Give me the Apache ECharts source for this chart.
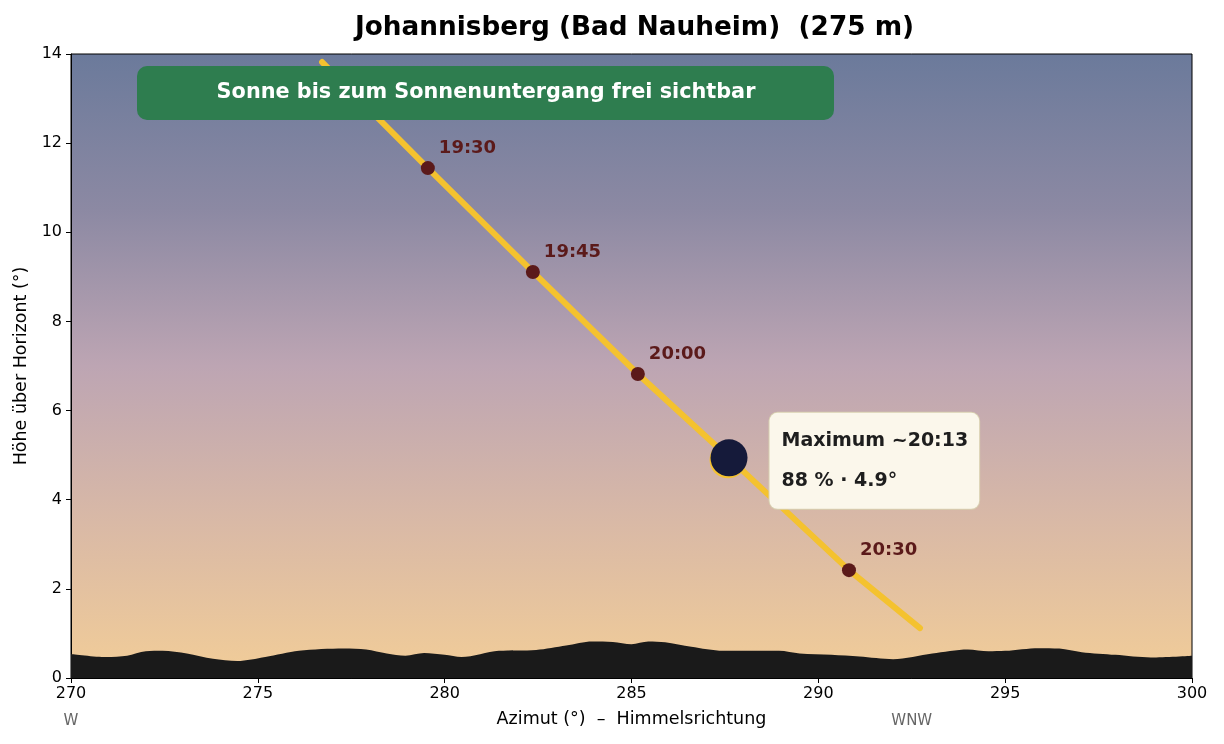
<!DOCTYPE html>
<html>
<head>
<meta charset="utf-8">
<title>Johannisberg (Bad Nauheim)</title>
<script src="https://cdn.jsdelivr.net/npm/echarts@6/dist/echarts.min.js"></script>
<style>
  html, body { margin: 0; padding: 0; background: #fff; }
  #chart { width: 1224px; height: 744px; }
</style>
</head>
<body>
<div id="chart"></div>
<script>
// horizon profile (azimuth / altitude in degrees)
const horizonAz = [270, 270.95, 271.5, 272, 272.45, 273.1, 273.8, 274.45, 275.2, 276.1, 277.3, 277.9,
  278.45, 278.95, 279.45, 280, 280.45, 281.45, 282.45, 283.25, 283.95, 284.5, 285, 285.45, 285.9,
  286.6, 287.45, 288.95, 289.5, 290.35, 291.1, 292, 293.05, 294, 294.55, 295, 295.9, 296.45,
  297.05, 297.95, 298.9, 300];
const horizonAlt = [0.54, 0.47, 0.50, 0.60, 0.61, 0.55, 0.43, 0.38, 0.47, 0.61, 0.66, 0.64,
  0.55, 0.50, 0.56, 0.52, 0.47, 0.61, 0.63, 0.73, 0.82, 0.81, 0.76, 0.82, 0.80,
  0.70, 0.61, 0.61, 0.55, 0.52, 0.48, 0.42, 0.55, 0.64, 0.60, 0.61, 0.67, 0.66,
  0.58, 0.52, 0.46, 0.50];

// sun path
const pathAz = [276.72, 279.55, 282.36, 285.17, 287.61, 290.82, 292.72];
const pathAlt = [13.82, 11.44, 9.11, 6.82, 4.94, 2.42, 1.12];

// quarter-hour markers
const markTimes = ['19:30', '19:45', '20:00', '20:30'];
const markAz = [279.55, 282.36, 285.17, 290.82];
const markAlt = [11.44, 9.11, 6.82, 2.42];

// maximum of the eclipse
const maxTime = '20:13';
const maxPercent = 88;
const maxAz = 287.61;
const maxAlt = 4.94;

// compass directions
const dirValues = [270, 292.5];
const dirNames = ['W', 'WNW'];

const xTicks = [270, 300, 5];
const yTicks = [0, 14, 2];

const FONT = 'DejaVu Sans';
const chart = echarts.init(document.getElementById('chart'));

const zip = (a, b) => a.map((v, i) => [v, b[i]]);

const option = {
  animation: false,
  textStyle: { fontFamily: FONT },
  title: {
    text: 'Johannisberg (Bad Nauheim)  (275 m)',
    left: 350,
    top: 10,
    textStyle: { fontFamily: FONT, fontSize: 26.3, fontWeight: 'bold', color: '#000' }
  },
  grid: {
    left: 71, right: 32, top: 54, bottom: 66,
    show: true,
    borderColor: '#000',
    borderWidth: 1,
    backgroundColor: new echarts.graphic.LinearGradient(0, 0, 0, 1, [
      { offset: 0, color: '#6b7a9b' },
      { offset: 0.25, color: '#8c89a3' },
      { offset: 0.5, color: '#bda5b3' },
      { offset: 0.75, color: '#d9b9a6' },
      { offset: 1, color: '#f2cd98' }
    ])
  },
  xAxis: [{
    type: 'value',
    min: xTicks[0], max: xTicks[1], interval: xTicks[2],
    name: 'Azimut (°)  –  Himmelsrichtung',
    nameLocation: 'middle',
    nameGap: 32,
    nameTextStyle: { fontSize: 17.5, color: '#000' },
    axisLine: { show: true, lineStyle: { color: '#000' } },
    axisTick: { show: true, length: 5, lineStyle: { color: '#000' } },
    axisLabel: { fontSize: 16, color: '#000', margin: 8 },
    splitLine: { show: false }
  }, {
    type: 'value',
    position: 'bottom',
    min: xTicks[0], max: xTicks[1],
    axisLine: { show: false },
    axisTick: { show: false },
    splitLine: { show: false },
    axisLabel: {
      customValues: dirValues,
      margin: 36,
      fontSize: 15,
      color: '#666',
      formatter: (v) => dirNames[dirValues.indexOf(v)]
    }
  }],
  yAxis: {
    type: 'value',
    min: yTicks[0], max: yTicks[1], interval: yTicks[2],
    name: 'Höhe über Horizont (°)',
    nameLocation: 'middle',
    nameGap: 37,
    nameTextStyle: { fontSize: 17.5, color: '#000' },
    axisLine: { show: true, lineStyle: { color: '#000' } },
    axisTick: { show: true, length: 5, lineStyle: { color: '#000' } },
    axisLabel: { fontSize: 16, color: '#000', margin: 9 },
    splitLine: { show: false }
  },
  series: [
    {
      name: 'horizon',
      type: 'line',
      data: zip(horizonAz, horizonAlt),
      smooth: 0.3,
      symbol: 'none',
      lineStyle: { width: 0 },
      areaStyle: { color: '#1a1a1a', opacity: 1 },
      z: 3
    },
    {
      name: 'path',
      type: 'line',
      data: zip(pathAz, pathAlt),
      symbol: 'none',
      lineStyle: { color: '#f4c22f', width: 6, cap: 'round' },
      z: 4
    },
    {
      name: 'times',
      type: 'scatter',
      data: markTimes.map((t, i) => ({ value: [markAz[i], markAlt[i]], name: t })),
      symbolSize: 14,
      itemStyle: { color: '#5b1a1a', opacity: 1 },
      label: {
        show: true,
        position: 'right',
        distance: 4,
        offset: [0, -20],
        formatter: (p) => p.name,
        fontFamily: FONT,
        fontSize: 18,
        fontWeight: 'bold',
        color: '#5b1a1a',
        opacity: 1
      },
      z: 5
    },
    {
      name: 'maxGlow',
      type: 'scatter',
      data: [[maxAz, maxAlt]],
      symbolSize: 37,
      symbolOffset: [-1, 2],
      itemStyle: { color: '#f4c22f', opacity: 1 },
      z: 6
    },
    {
      name: 'max',
      type: 'scatter',
      data: [[maxAz, maxAlt]],
      symbolSize: 37,
      itemStyle: { color: '#151a3a', opacity: 1 },
      label: {
        show: true,
        position: 'right',
        distance: 22,
        offset: [0, 3],
        opacity: 1,
        formatter: '{a|Maximum ~' + maxTime + '}\n{a|' + maxPercent + ' % · ' + maxAlt.toFixed(1) + '°}',
        backgroundColor: '#fbf7eb',
        borderColor: '#d8d0b0',
        borderWidth: 1,
        borderRadius: 8,
        padding: [8, 11, 8, 12],
        rich: {
          a: { fontFamily: FONT, fontSize: 19, fontWeight: 'bold', color: '#1e1e1e', lineHeight: 40 }
        }
      },
      z: 7
    }
  ],
  graphic: [
    {
      type: 'rect',
      shape: { x: 137, y: 66, width: 697, height: 54, r: 10 },
      style: { fill: '#2e7d4f' },
      z: 10
    },
    {
      type: 'text',
      x: 486, y: 93,
      style: {
        text: 'Sonne bis zum Sonnenuntergang frei sichtbar',
        fill: '#fff',
        font: 'bold 20.8px "DejaVu Sans"',
        align: 'center',
        verticalAlign: 'middle'
      },
      z: 11
    }
  ]
};

chart.setOption(option);
</script>
</body>
</html>
